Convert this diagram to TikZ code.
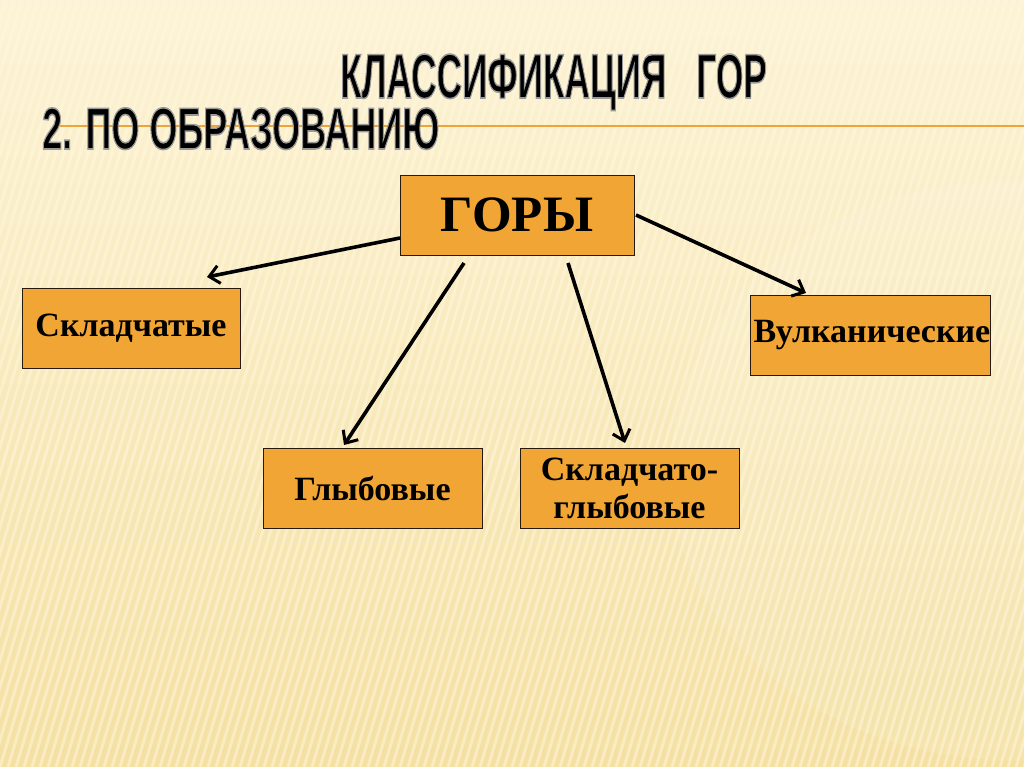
\documentclass[tikz,border=0pt]{standalone}
\usepackage{fontspec}
\setmainfont{Liberation Serif}
\newfontfamily\titlefont{Liberation Sans}
\usetikzlibrary{arrows.meta}
\definecolor{bgtop}{HTML}{FCF3D6}
\definecolor{bgmid}{HTML}{F8E6B2}
\definecolor{bgbot}{HTML}{F5E0A2}
\definecolor{stripe}{HTML}{FFF8E0}
\definecolor{boxfill}{HTML}{F0A535}
\definecolor{rule}{HTML}{EBA33A}
\tikzset{
  kbox/.style={draw=black!80!brown, line width=0.9pt, fill=boxfill, minimum height=80pt, inner sep=0pt, font=\bfseries\fontsize{34}{38}\selectfont, align=center},
  karrow/.style={line width=3.6pt, draw=black, -{Straight Barb[length=10pt,width=18pt,line width=3pt]}},
}
\newcommand{\outlinetext}[1]{\special{pdf:literal direct 2 Tr 1.6 w 0.6 G}#1\special{pdf:literal direct 0 Tr}}
\begin{document}
\begin{tikzpicture}[x=1pt,y=-1pt]
\useasboundingbox (0,0) rectangle (1024,767);
% background
\shade[top color=bgtop, middle color=bgmid, bottom color=bgbot] (0,0) rectangle (1024,767);
\fill[white, opacity=0.10] (1010,470) ellipse (340 and 290);
\begin{scope}
\clip (0,0) rectangle (1024,767);
\foreach \i in {-40,...,140}{
  \draw[stripe, line width=3pt, opacity=0.5] (\i*8,767) -- (\i*8+230,0);
}
\end{scope}
% title
\draw[rule, line width=2pt] (60,126) -- (1024,126);
\node[anchor=base west, inner sep=0pt] (t1) at (340,98) {\titlefont\bfseries\fontsize{63}{63}\selectfont\scalebox{0.56}[1]{\outlinetext{КЛАССИФИКАЦИЯ\hspace{0.85em}ГОР}}};
\node[anchor=base west, inner sep=0pt] (t2) at (42,149) {\titlefont\bfseries\fontsize{59}{59}\selectfont\scalebox{0.61}[1]{\outlinetext{2. ПО ОБРАЗОВАНИЮ}}};
% boxes
\node[kbox, minimum width=234pt, font=\bfseries\fontsize{51}{51}\selectfont] (g) at (517,215) {\raisebox{-5pt}{ГОРЫ}};
\node[kbox, minimum width=218pt] (s) at (131,328) {\raisebox{-3pt}{Складчатые}};
\node[kbox, minimum width=235pt] (v) at (870.5,335) {\hspace*{3pt}Вулканические};
\node[kbox, minimum width=219pt] (gl) at (372.5,488) {Глыбовые};
\node[kbox, minimum width=219pt] (sg) at (629.5,488) {Складчато-\\глыбовые};
% arrow ends
\coordinate (a1s) at (400,238); \coordinate (a1e) at (207,277);
\coordinate (a2s) at (464,263); \coordinate (a2e) at (344,445);
\coordinate (a3s) at (568,263); \coordinate (a3e) at (625,443);
\coordinate (a4s) at (636,215); \coordinate (a4e) at (806,293);
\draw[karrow] (a1s) -- (a1e);
\draw[karrow] (a2s) -- (a2e);
\draw[karrow] (a3s) -- (a3e);
\draw[karrow] (a4s) -- (a4e);
\end{tikzpicture}
\end{document}
